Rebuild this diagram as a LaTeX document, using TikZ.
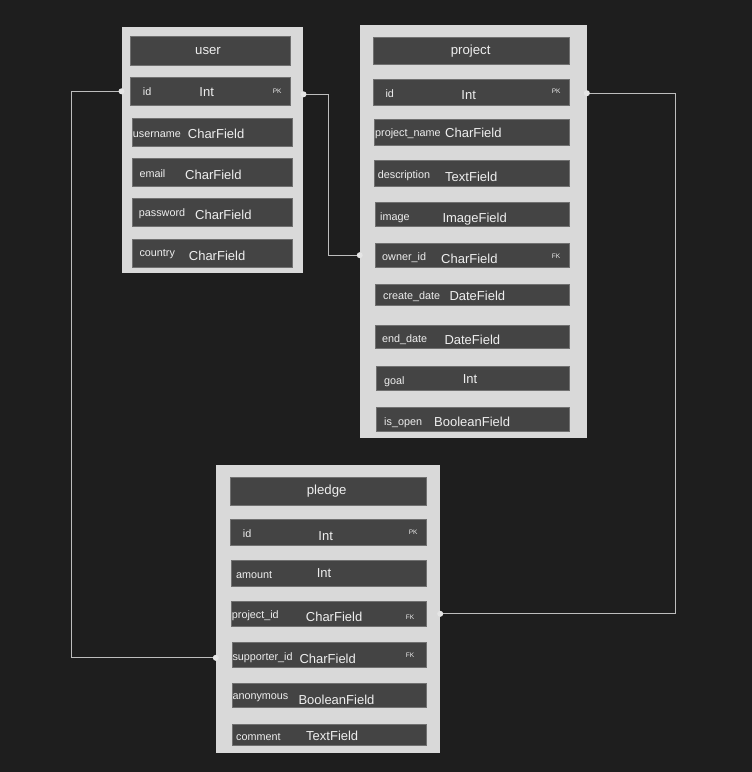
\documentclass[tikz,border=0pt]{standalone}
\usepackage{fontspec}
\setmainfont{Liberation Sans}
\usepackage{tikz}
\usepackage{xcolor}
\definecolor{fond}{HTML}{1E1E1E}
\definecolor{gristable}{HTML}{D9D9D9}
\definecolor{grisligne}{HTML}{444444}
\definecolor{bordligne}{HTML}{707070}
\definecolor{texte}{HTML}{EEEEEE}
\definecolor{lien}{HTML}{BDBDBD}
\tikzset{
TableBox/.style={
 draw=none, 
 fill=gristable, 
 inner sep=0pt
 },
RowBox/.style={
 draw=bordligne, 
 fill=grisligne, 
 line width=0.6pt, 
 inner sep=0pt
 },
TitleText/.style={
 text=texte, 
 inner sep=0pt, 
 yshift=-0.8pt, 
 font=\fontsize{13.2}{15}\selectfont
 },
FieldName/.style={
 anchor=west, 
 text=texte, 
 inner sep=0pt, 
 yshift=-0.8pt, 
 font=\fontsize{10.8}{12}\selectfont
 },
FieldType/.style={
 anchor=west, 
 text=texte, 
 inner sep=0pt, 
 yshift=-0.8pt, 
 font=\fontsize{13}{15}\selectfont
 },
KeyTag/.style={
 anchor=west, 
 text=texte, 
 inner sep=0pt, 
 font=\fontsize{6.5}{8}\selectfont
 },
Link/.style={
 draw=lien, 
 line width=0.8pt
 },
Dot/.style={
 fill=#1
 },
Dot/.default={texte!92!gray}
}

\begin{document}
\begin{tikzpicture}[x=1pt,y=-1pt]
\useasboundingbox (0,0) rectangle (752,772);
\fill[fond] (0,0) rectangle (752,772);
% user
\node[TableBox, minimum width=181.6pt, minimum height=246pt] (user) at (212.5,150.3) {};
\node[RowBox, minimum width=160.7pt, minimum height=28.3pt] (user-titre) at (210.3,50.8) {};
\node[RowBox, minimum width=160.7pt, minimum height=28pt] (user-id) at (210.3,91.3) {};
\node[RowBox, minimum width=160.3pt, minimum height=28pt] (user-username) at (212.2,132) {};
\node[RowBox, minimum width=160.3pt, minimum height=28pt] (user-email) at (212.2,172.3) {};
\node[RowBox, minimum width=160pt, minimum height=28pt] (user-password) at (212.7,212.7) {};
\node[RowBox, minimum width=160pt, minimum height=28pt] (user-country) at (212.7,253.3) {};
\node[TitleText] (user-t) at (208,50.7) {user};
\node[FieldName] (user-id-n) at (142.7,91) {id};
\node[FieldType, anchor=center] (user-id-t) at (206.7,91) {Int};
\node[KeyTag] (user-id-k) at (272.7,91.5) {PK};
\node[FieldName] (user-username-n) at (132.7,133.5) {username};
\node[FieldType] (user-username-t) at (187.7,133.5) {CharField};
\node[FieldName] (user-email-n) at (139.3,173.3) {email};
\node[FieldType] (user-email-t) at (185,174) {CharField};
\node[FieldName] (user-password-n) at (138.7,213.3) {password};
\node[FieldType] (user-password-t) at (195,214.3) {CharField};
\node[FieldName] (user-country-n) at (139.3,253.3) {country};
\node[FieldType] (user-country-t) at (188.7,254.7) {CharField};
% project
\node[TableBox, minimum width=226.7pt, minimum height=413.3pt] (project) at (473.3,231.7) {};
\node[RowBox, minimum width=195.7pt, minimum height=27.4pt] (project-titre) at (471.2,51) {};
\node[RowBox, minimum width=195.7pt, minimum height=26.3pt] (project-id) at (471.2,92.2) {};
\node[RowBox, minimum width=194.3pt, minimum height=26.4pt] (project-name) at (471.8,132.5) {};
\node[RowBox, minimum width=194.3pt, minimum height=26pt] (project-description) at (471.8,173.3) {};
\node[RowBox, minimum width=193.7pt, minimum height=24.7pt] (project-image) at (472.2,214.3) {};
\node[RowBox, minimum width=193.7pt, minimum height=24.3pt] (project-owner) at (472.2,255.2) {};
\node[RowBox, minimum width=193.7pt, minimum height=21.7pt] (project-create) at (472.2,294.8) {};
\node[RowBox, minimum width=193.7pt, minimum height=23.4pt] (project-end) at (472.2,337) {};
\node[RowBox, minimum width=192.3pt, minimum height=23.3pt] (project-goal) at (472.8,378.3) {};
\node[RowBox, minimum width=192.3pt, minimum height=24.4pt] (project-open) at (472.8,419.5) {};
\node[TitleText] (project-t) at (470.7,50.3) {project};
\node[FieldName] (project-id-n) at (385.3,92.7) {id};
\node[FieldType, anchor=center] (project-id-t) at (468.7,94.7) {Int};
\node[KeyTag] (project-id-k) at (551.7,91.3) {PK};
\node[FieldName] (project-name-n) at (375,133.3) {project\_name};
\node[FieldType] (project-name-t) at (445,132.3) {CharField};
\node[FieldName] (project-description-n) at (377.7,175.3) {description};
\node[FieldType] (project-description-t) at (445,176.3) {TextField};
\node[FieldName] (project-image-n) at (380,216.7) {image};
\node[FieldType] (project-image-t) at (442.3,218) {ImageField};
\node[FieldName] (project-owner-n) at (382,257.3) {owner\_id};
\node[FieldType] (project-owner-t) at (441,258.3) {CharField};
\node[KeyTag] (project-owner-k) at (551.7,256.3) {FK};
\node[FieldName] (project-create-n) at (383,296) {create\_date};
\node[FieldType] (project-create-t) at (449.3,295.3) {DateField};
\node[FieldName] (project-end-n) at (382,339) {end\_date};
\node[FieldType] (project-end-t) at (444.3,338.7) {DateField};
\node[FieldName] (project-goal-n) at (384,380.7) {goal};
\node[FieldType, anchor=center] (project-goal-t) at (470,378.7) {Int};
\node[FieldName] (project-open-n) at (384,421.7) {is\_open};
\node[FieldType] (project-open-t) at (434,421) {BooleanField};
% pledge
\node[TableBox, minimum width=224pt, minimum height=288pt] (pledge) at (328,609.3) {};
\node[RowBox, minimum width=196pt, minimum height=27.7pt] (pledge-titre) at (328,491.2) {};
\node[RowBox, minimum width=196pt, minimum height=26.7pt] (pledge-id) at (328,532.3) {};
\node[RowBox, minimum width=194.3pt, minimum height=26pt] (pledge-amount) at (328.8,573) {};
\node[RowBox, minimum width=194.3pt, minimum height=25.7pt] (pledge-project) at (328.8,613.8) {};
\node[RowBox, minimum width=193.7pt, minimum height=24.3pt] (pledge-supporter) at (329.2,654.8) {};
\node[RowBox, minimum width=193.7pt, minimum height=23.6pt] (pledge-anonymous) at (329.2,695.5) {};
\node[RowBox, minimum width=193.7pt, minimum height=21.4pt] (pledge-comment) at (329.2,735) {};
\node[TitleText] (pledge-t) at (326.7,490.7) {pledge};
\node[FieldName] (pledge-id-n) at (242.7,532.7) {id};
\node[FieldType, anchor=center] (pledge-id-t) at (325.7,535.3) {Int};
\node[KeyTag] (pledge-id-k) at (408.7,532) {PK};
\node[FieldName] (pledge-amount-n) at (236,574) {amount};
\node[FieldType, anchor=center] (pledge-amount-t) at (324,572) {Int};
\node[FieldName] (pledge-project-n) at (231.7,615.3) {project\_id};
\node[FieldType] (pledge-project-t) at (305.7,616.3) {CharField};
\node[KeyTag] (pledge-project-k) at (405.7,617.3) {FK};
\node[FieldName] (pledge-supporter-n) at (232.3,657) {supporter\_id};
\node[FieldType] (pledge-supporter-t) at (299.3,658) {CharField};
\node[KeyTag] (pledge-supporter-k) at (405.7,655.7) {FK};
\node[FieldName] (pledge-anonymous-n) at (232.3,697.3) {anonymous};
\node[FieldType] (pledge-anonymous-t) at (298.3,698.7) {BooleanField};
\node[FieldName] (pledge-comment-n) at (236,736) {comment};
\node[FieldType] (pledge-comment-t) at (306,735.3) {TextField};
% liens
\coordinate (uidG) at (user.west |- user-id);
\coordinate (uidD) at ([yshift=-3pt]user.east |- user-id);
\coordinate (pidD) at ([yshift=-1pt]project.east |- project-id);
\coordinate (pownG) at (project.west |- project-owner);
\coordinate (pprojD) at (pledge.east |- pledge-project);
\coordinate (psupG) at ([yshift=-3pt]pledge.west |- pledge-supporter);
\draw[Link] (uidG) -- ++(-50,0) |- (psupG);
\draw[Link] (uidD) -- ++(25,0) |- (pownG);
\draw[Link] (pidD) -- ++(89,0) |- (pprojD);
\fill[Dot] (uidG) circle (3pt);
\fill[Dot] (uidD) circle (3pt);
\fill[Dot] (pidD) circle (3pt);
\fill[Dot] (pownG) circle (3pt);
\fill[Dot] (pprojD) circle (3pt);
\fill[Dot] (psupG) circle (3pt);
\end{tikzpicture}
\end{document}
